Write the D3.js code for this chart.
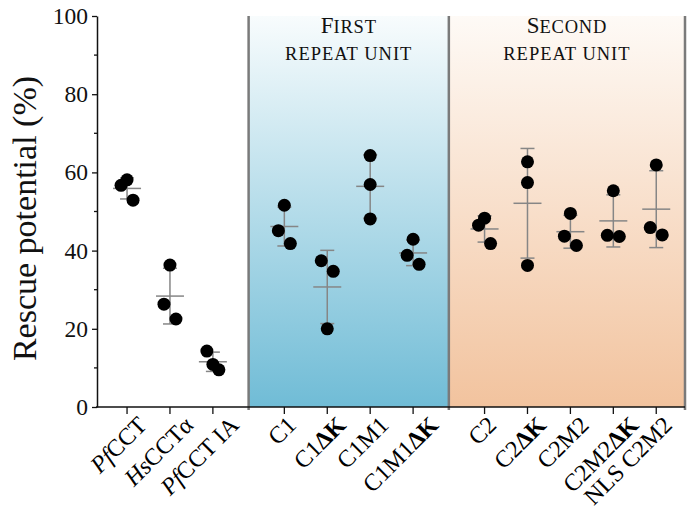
<!DOCTYPE html>
<html>
<head>
<meta charset="utf-8">
<script src="https://cdn.jsdelivr.net/npm/d3@7"></script>
<style>
  body { margin: 0; background: #fff; }
  svg { display: block; font-family: "Liberation Serif", "DejaVu Serif", serif; }
</style>
</head>
<body>
<svg id="chart"></svg>
<script>
// data (three replicates per construct)
const categories = ["PfCCT", "HsCCTα", "PfCCT IA", "C1", "C1ΔK", "C1M1", "C1M1ΔK",
                    "C2", "C2ΔK", "C2M2", "C2M2ΔK", "NLS C2M2"];
const groupOf = [0, 0, 0, 1, 1, 1, 1, 2, 2, 2, 2, 2];
const rep1 = [58.1, 36.3, 14.3, 51.6, 37.4, 64.3, 42.9, 48.3, 62.7, 49.5, 55.3, 61.9];
const rep2 = [56.7, 26.3, 10.9, 45.1, 34.7, 56.9, 38.8, 46.5, 57.4, 43.7, 43.9, 45.9];
const rep3 = [52.9, 22.5,  9.5, 41.8, 20.0, 48.1, 36.5, 41.8, 36.2, 41.3, 43.6, 44.0];
const sectionTitles = ["First", "Second"];
const sectionSub = "repeat unit";
const yTicks = [0, 20, 40, 60, 80, 100];
const yMinor = [10, 30, 50, 70, 90];

const width = 688, height = 518;
const margin = { top: 16, right: 3, bottom: 111, left: 97 };
const groupGap = 0.665;

const svg = d3.select("#chart").attr("width", width).attr("height", height);

const slot = (i) => i + groupOf[i] * groupGap;
const lastSlot = slot(categories.length - 1);

const x = d3.scaleLinear()
    .domain([-0.7, lastSlot + 0.67])
    .range([margin.left, width - margin.right]);
const y = d3.scaleLinear()
    .domain([0, 100])
    .range([height - margin.bottom, margin.top]);

// section backgrounds
const defs = svg.append("defs");
const grads = [["blueGrad", "#f8fcfd", "#70bcd6"], ["peachGrad", "#fefaf6", "#f2c39e"]];
grads.forEach(([id, c0, c1]) => {
    const g = defs.append("linearGradient").attr("id", id)
        .attr("x1", 0).attr("y1", 0).attr("x2", 0).attr("y2", 1);
    g.append("stop").attr("offset", "0%").attr("stop-color", c0);
    g.append("stop").attr("offset", "100%").attr("stop-color", c1);
});

// boundaries between groups (midway between neighbouring slots)
const firstOf = g => groupOf.indexOf(g);
const lastOf = g => groupOf.lastIndexOf(g);
const bounds = [
    (slot(lastOf(0)) + slot(firstOf(1))) / 2,
    (slot(lastOf(1)) + slot(firstOf(2))) / 2,
    x.domain()[1]
];

[0, 1].forEach(s => {
    svg.append("rect")
        .attr("x", x(bounds[s]))
        .attr("y", y(100))
        .attr("width", x(bounds[s + 1]) - x(bounds[s]))
        .attr("height", y(0) - y(100))
        .attr("fill", `url(#${grads[s][0]})`);
});

// section headings in small caps
[0, 1].forEach(s => {
    const cx = (x(bounds[s]) + x(bounds[s + 1])) / 2;
    const t = svg.append("text")
        .attr("x", cx).attr("y", 33)
        .attr("text-anchor", "middle")
        .attr("fill", "#111");
    t.append("tspan").attr("font-size", 23).text(sectionTitles[s][0].toUpperCase());
    t.append("tspan").attr("font-size", 18.5).attr("letter-spacing", 0.8)
        .text(sectionTitles[s].slice(1).toUpperCase());
    svg.append("text")
        .attr("x", cx).attr("y", 60)
        .attr("text-anchor", "middle")
        .attr("font-size", 18.5)
        .attr("letter-spacing", 1)
        .attr("fill", "#111")
        .text(sectionSub.toUpperCase());
});

// horizontal spreading of near points, roughly as the plotting program did
const dx = 6;
const spread = (vals) => {
    const px = vals.map(v => y(v));
    const g1 = px[1] - px[0], g2 = px[2] - px[1];
    if (g1 < 14 && g2 < 14 && g1 > g2) return [-dx, 0, dx];
    if (g2 < 19) return [0, -dx, dx];
    if (g1 < 19) return [-dx, dx, 0];
    return [0, 0, 0];
};

const groups = categories.map((c, i) => {
    const vals = [rep1[i], rep2[i], rep3[i]];
    return {
        name: c,
        cx: x(slot(i)),
        vals,
        mean: d3.mean(vals),
        sd: d3.deviation(vals),
        offs: spread(vals)
    };
});

// mean +/- SD
const errColor = "#868686";
const eb = svg.append("g").attr("stroke", errColor).attr("stroke-width", 1.5);
groups.forEach(d => {
    eb.append("line")
        .attr("x1", d.cx).attr("x2", d.cx)
        .attr("y1", y(d.mean - d.sd)).attr("y2", y(d.mean + d.sd));
    eb.append("line")
        .attr("x1", d.cx - 14).attr("x2", d.cx + 14)
        .attr("y1", y(d.mean)).attr("y2", y(d.mean));
    [d.mean - d.sd, d.mean + d.sd].forEach(v => {
        eb.append("line")
            .attr("x1", d.cx - 7).attr("x2", d.cx + 7)
            .attr("y1", y(v)).attr("y2", y(v));
    });
});

// dots
const pts = svg.append("g");
groups.forEach(d => {
    pts.selectAll(null)
        .data(d.vals)
        .join("circle")
        .attr("cx", (v, k) => d.cx + d.offs[k])
        .attr("cy", v => y(v))
        .attr("r", 6.5)
        .attr("fill", "#000");
});

// divider lines
svg.append("g").selectAll("line")
    .data(bounds)
    .join("line")
    .attr("x1", b => x(b)).attr("x2", b => x(b))
    .attr("y1", y(100)).attr("y2", y(0) + 3)
    .attr("stroke", "#7a7a7a")
    .attr("stroke-width", 2.5);

// y axis
const gy = svg.append("g")
    .attr("transform", `translate(${margin.left},0)`)
    .call(d3.axisLeft(y).tickValues(yTicks).tickSize(5).tickPadding(4).tickSizeOuter(0));
gy.select(".domain").attr("stroke", "#111").attr("stroke-width", 1.5);
gy.selectAll(".tick line").attr("stroke", "#111").attr("stroke-width", 1.3);
gy.selectAll(".tick text").attr("font-size", 23.5).attr("fill", "#111")
    .attr("font-family", "Liberation Serif");
gy.selectAll(".minor")
    .data(yMinor)
    .join("line")
    .attr("class", "minor")
    .attr("x1", -3).attr("x2", 0)
    .attr("y1", v => y(v)).attr("y2", v => y(v))
    .attr("stroke", "#111").attr("stroke-width", 1.3);

// x axis
const gx = svg.append("g")
    .attr("transform", `translate(0,${y(0)})`);
gx.append("line")
    .attr("x1", margin.left - 1).attr("x2", x(bounds[2]))
    .attr("stroke", "#111").attr("stroke-width", 1.5);
gx.selectAll(".xt")
    .data(groups)
    .join("line")
    .attr("class", "xt")
    .attr("x1", d => d.cx).attr("x2", d => d.cx)
    .attr("y1", 0).attr("y2", 7)
    .attr("stroke", "#111").attr("stroke-width", 1.3);

// label markup: species prefix in italics, deletion (ΔK) in bold
const labelParts = (s) => {
    const m = s.match(/^(Pf|Hs)(.*)$/);
    if (m) return [[m[1], "italic", "normal"], [m[2], "normal", "normal"]];
    const k = s.indexOf("ΔK");
    if (k >= 0) return [[s.slice(0, k), "normal", "normal"], ["ΔK", "normal", "bold"]];
    return [[s, "normal", "normal"]];
};

groups.forEach(d => {
    const t = gx.append("text")
        .attr("text-anchor", "end")
        .attr("dy", "0.62em")
        .attr("font-size", 24)
        .attr("fill", "#000");
    labelParts(d.name).forEach(([txt, st, wt]) => {
        t.append("tspan").attr("font-style", st).attr("font-weight", wt).text(txt);
    });
    // longer labels sit a little further right of their tick, kept inside the page
    const len = t.node().getComputedTextLength();
    const shift = Math.min(0.2 * len - 3, width - 25 - d.cx);
    t.attr("transform", `translate(${d.cx + shift},9) rotate(-45)`);
});

// y title
svg.append("text")
    .attr("transform", `translate(36,${(y(0) + y(100)) / 2 + 7}) rotate(-90)`)
    .attr("text-anchor", "middle")
    .attr("font-size", 34)
    .attr("fill", "#111")
    .text("Rescue potential (%)");
</script>
</body>
</html>
